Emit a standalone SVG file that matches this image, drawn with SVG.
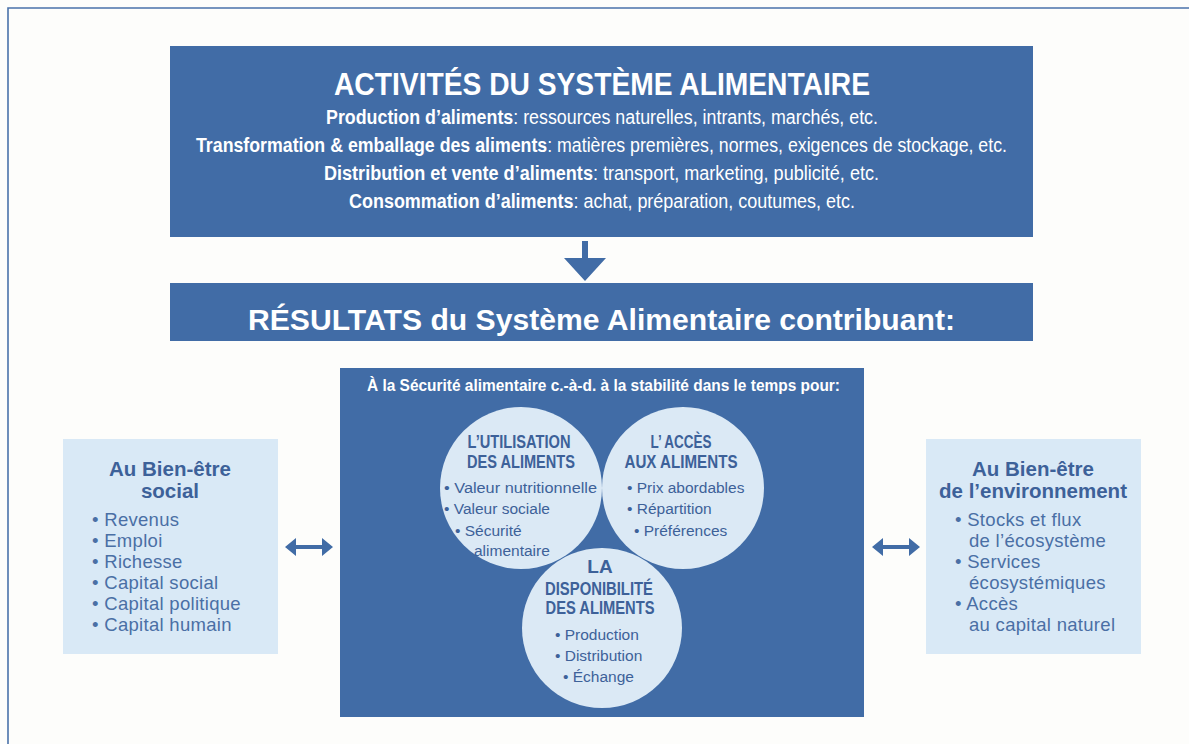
<svg xmlns="http://www.w3.org/2000/svg" width="1189" height="744" viewBox="0 0 1189 744">
<style>
.box{fill:#416ca6}
.light{fill:#dbe9f5}
.side{fill:#d9e9f6}
text{font-family:"Liberation Sans",Arial,sans-serif}
.w{fill:#ffffff}
.b{font-weight:bold}
.ct{fill:#3d6199;font-weight:bold;font-size:19px;text-anchor:middle}
.cb{fill:#3d6199;font-size:15.5px}
.st{fill:#3d6199;font-weight:bold;font-size:20.5px;text-anchor:middle}
.sb{fill:#4a6fa5;font-size:18.5px;letter-spacing:0.3px}
.arrow{fill:#416ca6}
</style>
<rect x="0" y="0" width="1189" height="744" fill="#fdfdfb"/>
<path d="M8,744 V8 H1189" fill="none" stroke="#4a72aa" stroke-width="1.6"/>

<g id="activites">
<rect class="box" x="170" y="46" width="863" height="191"/>
<text class="w b" x="602" y="95" font-size="31" text-anchor="middle" textLength="536" lengthAdjust="spacingAndGlyphs">ACTIVITÉS DU SYSTÈME ALIMENTAIRE</text>
<text class="w" x="326" y="124" font-size="19.5" textLength="552" lengthAdjust="spacingAndGlyphs"><tspan class="b">Production d’aliments</tspan>: ressources naturelles, intrants, marchés, etc.</text>
<text class="w" x="196" y="152" font-size="19.5" textLength="811" lengthAdjust="spacingAndGlyphs"><tspan class="b">Transformation &amp; emballage des aliments</tspan>: matières premières, normes, exigences de stockage, etc.</text>
<text class="w" x="324" y="180" font-size="19.5" textLength="555" lengthAdjust="spacingAndGlyphs"><tspan class="b">Distribution et vente d’aliments</tspan>: transport, marketing, publicité, etc.</text>
<text class="w" x="349" y="208" font-size="19.5" textLength="506" lengthAdjust="spacingAndGlyphs"><tspan class="b">Consommation d’aliments</tspan>: achat, préparation, coutumes, etc.</text>
</g>

<g id="resultats">
<rect class="box" x="170" y="283" width="863" height="58"/>
<text class="w b" x="248" y="330" font-size="30" textLength="707" lengthAdjust="spacingAndGlyphs">RÉSULTATS du Système Alimentaire contribuant:</text>
</g>

<g id="securite">
<rect class="box" x="340" y="368" width="524" height="349"/>
<text class="w b" x="367" y="391" font-size="16" textLength="473" lengthAdjust="spacingAndGlyphs">À la Sécurité alimentaire c.-à-d. à la stabilité dans le temps pour:</text>
</g>

<g id="utilisation">
<circle class="light" cx="521" cy="488" r="81"/>
<text class="ct" x="519" y="448" textLength="103" lengthAdjust="spacingAndGlyphs">L’UTILISATION</text>
<text class="ct" x="521" y="468" textLength="108" lengthAdjust="spacingAndGlyphs">DES ALIMENTS</text>
<text class="cb" x="444" y="493" textLength="153" lengthAdjust="spacingAndGlyphs">• Valeur nutritionnelle</text>
<text class="cb" x="444" y="514">• Valeur sociale</text>
<text class="cb" x="455" y="536">• Sécurité</text>
<text class="cb" x="474" y="556">alimentaire</text>
</g>

<g id="acces">
<circle class="light" cx="683" cy="488" r="81"/>
<text class="ct" x="681" y="448" textLength="61" lengthAdjust="spacingAndGlyphs">L’ ACCÈS</text>
<text class="ct" x="681" y="468" textLength="113" lengthAdjust="spacingAndGlyphs">AUX ALIMENTS</text>
<text class="cb" x="627" y="493">• Prix abordables</text>
<text class="cb" x="627" y="514">• Répartition</text>
<text class="cb" x="634" y="536">• Préférences</text>
</g>

<g id="disponibilite">
<circle class="light" cx="602" cy="628" r="80"/>
<text class="ct" x="600" y="573">LA</text>
<text class="ct" x="599" y="595" textLength="108" lengthAdjust="spacingAndGlyphs">DISPONIBILITÉ</text>
<text class="ct" x="600" y="614" textLength="109" lengthAdjust="spacingAndGlyphs">DES ALIMENTS</text>
<text class="cb" x="555" y="640">• Production</text>
<text class="cb" x="555" y="661">• Distribution</text>
<text class="cb" x="563" y="682">• Échange</text>
</g>

<g id="social">
<rect class="side" x="63" y="439" width="215" height="215"/>
<text class="st" x="170" y="476">Au Bien-être</text>
<text class="st" x="170" y="498">social</text>
<text class="sb" x="92" y="526">• Revenus</text>
<text class="sb" x="92" y="547">• Emploi</text>
<text class="sb" x="92" y="568">• Richesse</text>
<text class="sb" x="92" y="589">• Capital social</text>
<text class="sb" x="92" y="610">• Capital politique</text>
<text class="sb" x="92" y="631">• Capital humain</text>
</g>

<g id="environnement">
<rect class="side" x="926" y="439" width="215" height="215"/>
<text class="st" x="1033" y="476">Au Bien-être</text>
<text class="st" x="1033" y="498">de l’environnement</text>
<text class="sb" x="955" y="526">• Stocks et flux</text>
<text class="sb" x="969" y="547">de l’écosystème</text>
<text class="sb" x="955" y="568">• Services</text>
<text class="sb" x="969" y="589">écosystémiques</text>
<text class="sb" x="955" y="610">• Accès</text>
<text class="sb" x="969" y="631">au capital naturel</text>
</g>

<g id="connectors">
<path class="arrow" d="M582,241 H588 V258 H606 L585,281 L564,258 H582 Z"/>
<path class="arrow" d="M285,547 L296,538 V545 H322 V538 L333,547 L322,556 V549 H296 V556 Z"/>
<path class="arrow" d="M872,547 L883,538 V545 H909 V538 L920,547 L909,556 V549 H883 V556 Z"/>
</g>
</svg>
